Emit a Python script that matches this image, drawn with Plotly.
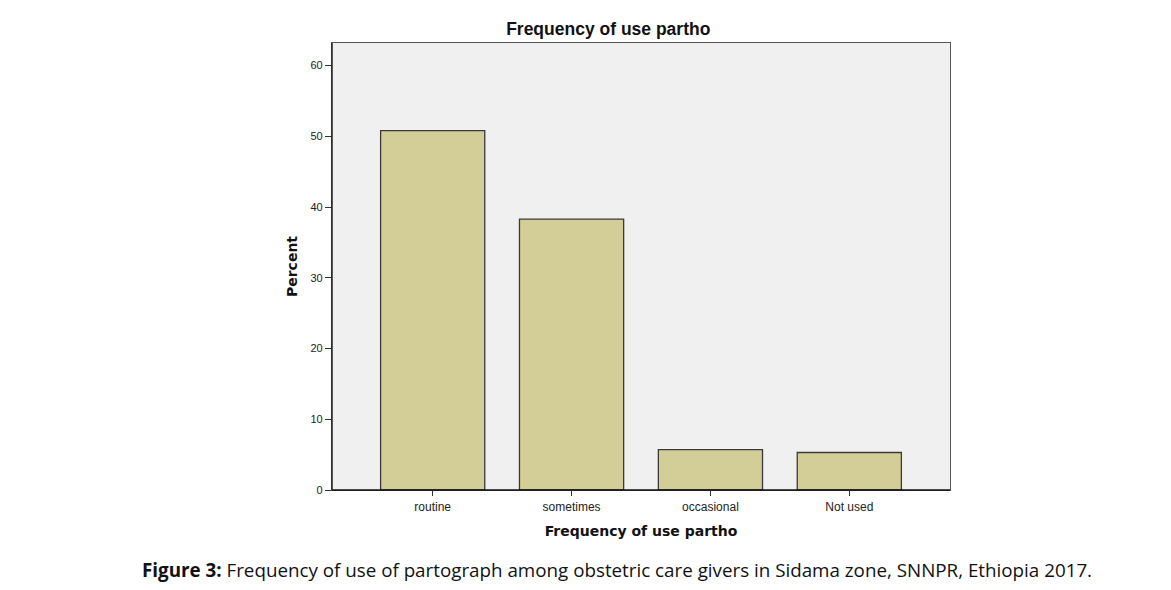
import plotly.graph_objects as go

categories = ["routine", "sometimes", "occasional", "Not used"]
percent = [50.8, 38.3, 5.7, 5.3]
y_ticks = [0, 10, 20, 30, 40, 50, 60]

fig = go.Figure()
fig.add_trace(go.Bar(
    x=categories, y=percent,
    marker=dict(color="#d3ce97", line=dict(color="#3a3a3a", width=1.3)),
    width=0.75,
))

# page has an 8px body margin; compensate so the plot lands where the reference has it
fig.update_layout(
    width=1171, height=590,
    margin=dict(l=324, r=229, t=35, b=108),
    paper_bgcolor="white", plot_bgcolor="#f0f0f0",
    showlegend=False,
    title=dict(text="<b>Frequency of use partho</b>", x=0.5126, xanchor="center",
               y=(590 - 21) / 590, yanchor="middle",
               font=dict(family="Liberation Sans", size=17.5, color="#111")),
    font=dict(family="Liberation Sans"),
)
fig.update_xaxes(
    range=[-0.725, 3.725], showline=True, mirror=True, linecolor="#555", linewidth=1.2,
    ticks="outside", ticklen=5, tickcolor="#333", tickwidth=1.2,
    tickfont=dict(size=12, color="#222"), showgrid=False,
    title=dict(text="<b>Frequency of use partho</b>", standoff=13,
               font=dict(family="DejaVu Sans", size=14, color="#111")),
)
fig.update_yaxes(
    range=[0, 63.2], showline=True, mirror=True, linecolor="#555", linewidth=1.2,
    tickvals=y_ticks, ticks="outside", ticklen=6, tickcolor="#333", tickwidth=1.2,
    tickfont=dict(size=11, color="#222"), showgrid=False, zeroline=False,
    title=dict(text="<b>Percent</b>", standoff=9,
               font=dict(family="DejaVu Sans", size=14, color="#111")),
)
fig.add_shape(type="line", xref="paper", yref="paper", x0=0, x1=1, y0=0, y1=0,
              line=dict(color="#111", width=1.5))
fig.add_shape(type="line", xref="paper", yref="paper", x0=0, x1=0, y0=0, y1=1,
              line=dict(color="#222", width=1.5))

fig.add_annotation(
    text="<b>Figure 3:</b> Frequency of use of partograph among obstetric care givers in Sidama zone, SNNPR, Ethiopia 2017.",
    xref="paper", yref="paper", x=(617 - 332) / 618, y=-(570 - 490) / 447,
    xanchor="center", yanchor="middle", showarrow=False,
    font=dict(family="Open Sans", size=18.8, color="#111"),
)

fig.write_html("out.html")
